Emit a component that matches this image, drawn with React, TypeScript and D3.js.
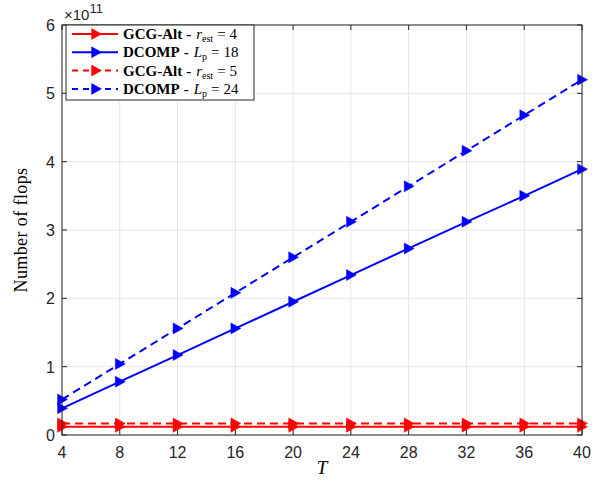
import React from "react";
import * as d3 from "d3";

const T = [4, 8, 12, 16, 20, 24, 28, 32, 36, 40];
const gcgR4 = [0.12, 0.12, 0.12, 0.12, 0.12, 0.12, 0.12, 0.12, 0.12, 0.12];
const dcompL18 = [0.39, 0.78, 1.17, 1.56, 1.95, 2.34, 2.73, 3.12, 3.5, 3.89];
const gcgR5 = [0.17, 0.17, 0.17, 0.17, 0.17, 0.17, 0.17, 0.17, 0.17, 0.17];
const dcompL24 = [0.52, 1.04, 1.56, 2.08, 2.6, 3.12, 3.64, 4.16, 4.68, 5.2];
const xTicks = [4, 8, 12, 16, 20, 24, 28, 32, 36, 40];
const yTicks = [0, 1, 2, 3, 4, 5, 6];

const series = [
  { name: "GCG-Alt", sym: "r", sub: "est", val: "4", color: "#ff0000", dash: false, data: gcgR4 },
  { name: "DCOMP", sym: "L", sub: "p", val: "18", color: "#0000ff", dash: false, data: dcompL18 },
  { name: "GCG-Alt", sym: "r", sub: "est", val: "5", color: "#ff0000", dash: true, data: gcgR5 },
  { name: "DCOMP", sym: "L", sub: "p", val: "24", color: "#0000ff", dash: true, data: dcompL24 },
];

const W = 605, H = 481;
const L = 62, R = 582, TOP = 25, BOT = 435;

function Tri({ x, y, color }: { x: number; y: number; color: string }) {
  const s = 5.5;
  return <path d={`M${x - s * 0.8},${y - s}L${x + s},${y}L${x - s * 0.8},${y + s}Z`} fill={color} stroke={color} strokeWidth={0.5} />;
}

export default function App() {
  const x = d3.scaleLinear().domain([4, 40]).range([L, R]);
  const y = d3.scaleLinear().domain([0, 6]).range([BOT, TOP]);
  const line = d3.line<number>().x((_, i) => x(T[i])).y((d) => y(d));
  const axisColor = "#262626";
  const tickFont = "'Liberation Sans', Arial, sans-serif";
  const serif = "'Liberation Serif', 'DejaVu Serif', serif";
  const legX = 66, legY = 25, legW = 188, legH = 75;
  return (
    <svg width={W} height={H} style={{ position: "absolute", left: 0, top: 0, background: "#fff" }}>
      <rect x={0} y={0} width={W} height={H} fill="#fff" />
      {xTicks.map((t) => (
        <line key={"gx" + t} x1={x(t)} x2={x(t)} y1={TOP} y2={BOT} stroke="#e6e6e6" strokeWidth={1} />
      ))}
      {yTicks.map((t) => (
        <line key={"gy" + t} x1={L} x2={R} y1={y(t)} y2={y(t)} stroke="#e6e6e6" strokeWidth={1} />
      ))}
      {series.map((s, k) => (
        <g key={k}>
          <path d={line(s.data) || ""} fill="none" stroke={s.color} strokeWidth={2} strokeDasharray={s.dash ? "8,5" : undefined} />
          {s.data.map((d, i) => (
            <Tri key={i} x={x(T[i])} y={y(d)} color={s.color} />
          ))}
        </g>
      ))}
      <rect x={L} y={TOP} width={R - L} height={BOT - TOP} fill="none" stroke={axisColor} strokeWidth={1} />
      {xTicks.map((t) => (
        <g key={"xt" + t}>
          <line x1={x(t)} x2={x(t)} y1={BOT} y2={BOT - 5} stroke={axisColor} />
          <line x1={x(t)} x2={x(t)} y1={TOP} y2={TOP + 5} stroke={axisColor} />
          <text x={x(t)} y={BOT + 23} textAnchor="middle" fontFamily={tickFont} fontSize={16} fill={axisColor}>{t}</text>
        </g>
      ))}
      {yTicks.map((t) => (
        <g key={"yt" + t}>
          <line x1={L} x2={L + 5} y1={y(t)} y2={y(t)} stroke={axisColor} />
          <line x1={R} x2={R - 5} y1={y(t)} y2={y(t)} stroke={axisColor} />
          <text x={L - 7} y={y(t) + 6} textAnchor="end" fontFamily={tickFont} fontSize={16} fill={axisColor}>{t}</text>
        </g>
      ))}
      <text x={L + 2} y={20} fontFamily={tickFont} fontSize={15} fill={axisColor}>
        ×10<tspan dy={-7} fontSize={13}>11</tspan>
      </text>
      <text x={322} y={474} textAnchor="middle" fontFamily={serif} fontStyle="italic" fontSize={19} fill="#000">T</text>
      <text transform={`translate(27,${(TOP + BOT) / 2}) rotate(-90)`} textAnchor="middle" fontFamily={serif} fontSize={18} letterSpacing={0.4} fill="#000">Number of flops</text>
      <rect x={legX} y={legY} width={legW} height={legH} fill="#fff" stroke={axisColor} strokeWidth={1} />
      {series.map((s, k) => {
        const yy = legY + 9 + k * 18.3;
        return (
          <g key={"lg" + k}>
            <line x1={legX + 6} x2={legX + 52} y1={yy} y2={yy} stroke={s.color} strokeWidth={2} strokeDasharray={s.dash ? "6,5" : undefined} />
            <Tri x={legX + 30} y={yy} color={s.color} />
            <text x={legX + 57} y={yy + 5} fontFamily={serif} fontSize={15} fill="#000">
              <tspan fontWeight="bold">{s.name}</tspan>
              <tspan dx={4} fontWeight="bold">-</tspan>
              <tspan fontStyle="italic" dx={5}>{s.sym}</tspan>
              <tspan fontSize={10} dy={3}>{s.sub}</tspan>
              <tspan dy={-3} dx={4}>=</tspan>
              <tspan dx={4}>{s.val}</tspan>
            </text>
          </g>
        );
      })}
    </svg>
  );
}
